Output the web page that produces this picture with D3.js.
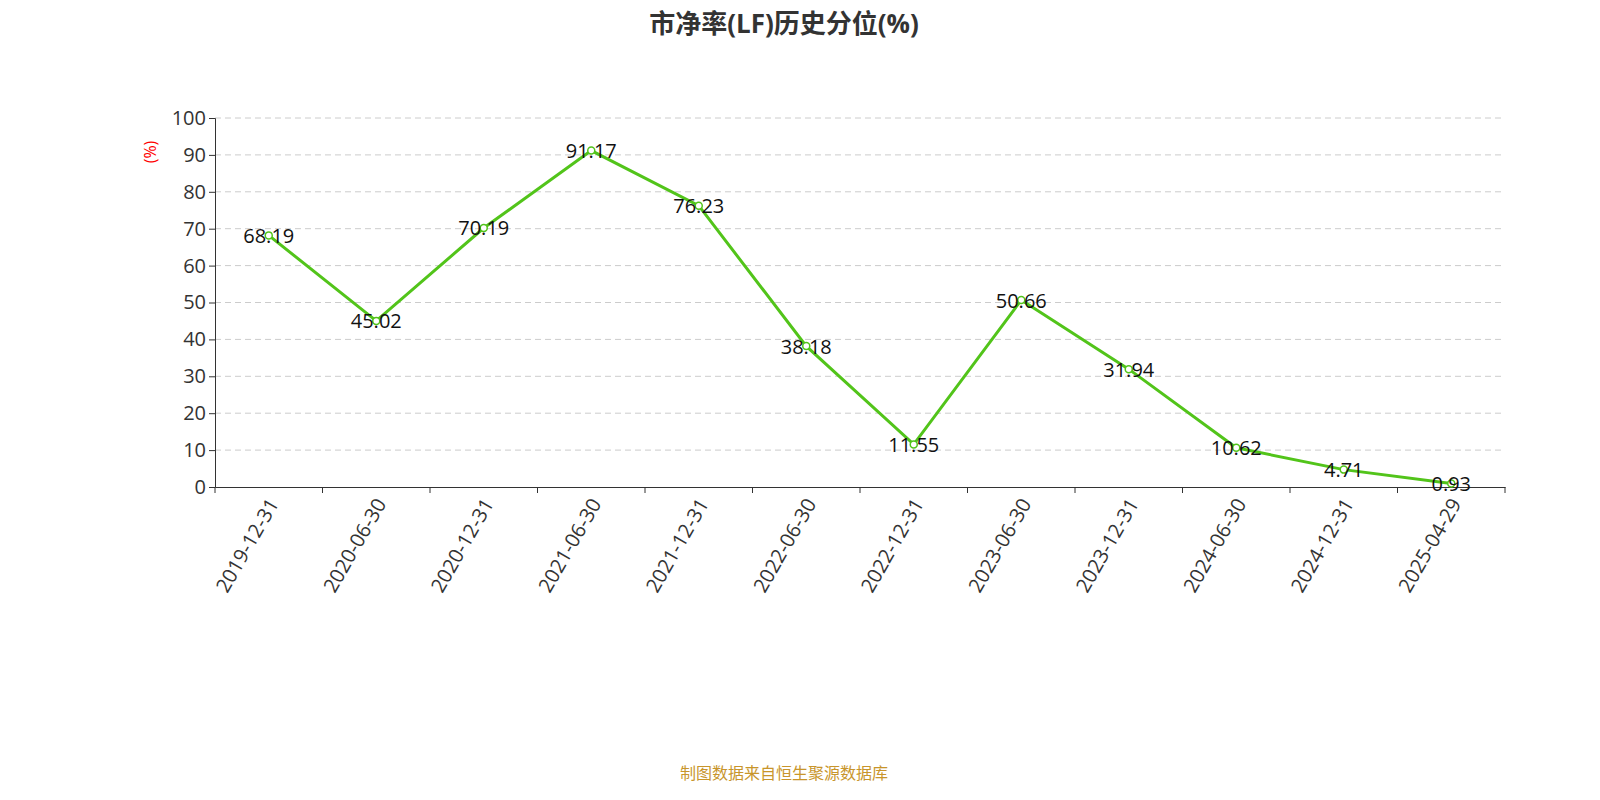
<!DOCTYPE html><html><head><meta charset="utf-8"><script src="https://cdn.jsdelivr.net/npm/d3@7"></script>
<style>html,body{margin:0;background:#fff;overflow:hidden}svg{display:block}text{font-family:"Open Sans","Noto Sans CJK SC",sans-serif}</style></head><body>
<svg id="c" width="1600" height="800"></svg>
<script>
const categories=["2019-12-31","2020-06-30","2020-12-31","2021-06-30","2021-12-31","2022-06-30","2022-12-31","2023-06-30","2023-12-31","2024-06-30","2024-12-31","2025-04-29"];
const values=[68.19,45.02,70.19,91.17,76.23,38.18,11.55,50.66,31.94,10.62,4.71,0.93];
const yTicks=[0,10,20,30,40,50,60,70,80,90,100];
const svg=d3.select("#c");
const L=215,R=1505,T=118,B=487;
const x=d3.scaleBand().domain(categories).range([L,R]);
const y=d3.scaleLinear().domain([0,100]).range([B,T]);
svg.append("text").attr("x",784).attr("y",33).attr("text-anchor","middle").attr("font-size",26).attr("font-weight","bold").attr("fill","#333").text("市净率(LF)历史分位(%)");
svg.append("g").selectAll("line").data(yTicks.slice(1)).join("line").attr("x1",L).attr("x2",R).attr("y1",d=>y(d)).attr("y2",d=>y(d)).attr("stroke","#ccc").attr("stroke-dasharray","6,4");
const ya=svg.append("g").attr("transform",`translate(${L},0)`).call(d3.axisLeft(y).tickValues(yTicks).tickSize(6));
ya.selectAll("text").attr("font-size",20).attr("fill","#333");
ya.selectAll("line,path").attr("stroke","#333");
const xa=svg.append("g").attr("transform",`translate(0,${B})`).call(d3.axisBottom(x).tickSize(0).tickFormat(""));
xa.select("path").attr("stroke","#333");
svg.append("g").selectAll("line").data(categories.concat([null])).join("line").attr("x1",(d,i)=>L+i*x.step()).attr("x2",(d,i)=>L+i*x.step()).attr("y1",B).attr("y2",B+6).attr("stroke","#333");
svg.append("g").selectAll("text").data(categories).join("text").attr("transform",d=>`translate(${x(d)+x.bandwidth()/2+6},${B+14}) rotate(-60)`).attr("text-anchor","end").attr("dominant-baseline","middle").attr("font-size",20).attr("fill","#333").text(d=>d);
svg.append("text").attr("transform","translate(152,152) rotate(-90)").attr("text-anchor","middle").attr("dominant-baseline","middle").attr("font-size",16).attr("fill","red").text("(%)");
const cx=d=>x(d)+x.bandwidth()/2;
svg.append("path").datum(values).attr("d",d3.line().x((d,i)=>cx(categories[i])).y(d=>y(d))).attr("fill","none").attr("stroke","#52c41a").attr("stroke-width",3);
svg.append("g").selectAll("circle").data(values).join("circle").attr("cx",(d,i)=>cx(categories[i])).attr("cy",d=>y(d)).attr("r",3.5).attr("fill","#fff").attr("stroke","#52c41a").attr("stroke-width",1.5);
svg.append("g").selectAll("text").data(values).join("text").attr("x",(d,i)=>cx(categories[i])).attr("y",d=>y(d)).attr("text-anchor","middle").attr("dominant-baseline","central").attr("font-size",20).attr("fill","#111").text(d=>d.toFixed(2));
svg.append("text").attr("x",784).attr("y",779).attr("text-anchor","middle").attr("font-size",16).attr("fill","#c8952b").text("制图数据来自恒生聚源数据库");
</script></body></html>
